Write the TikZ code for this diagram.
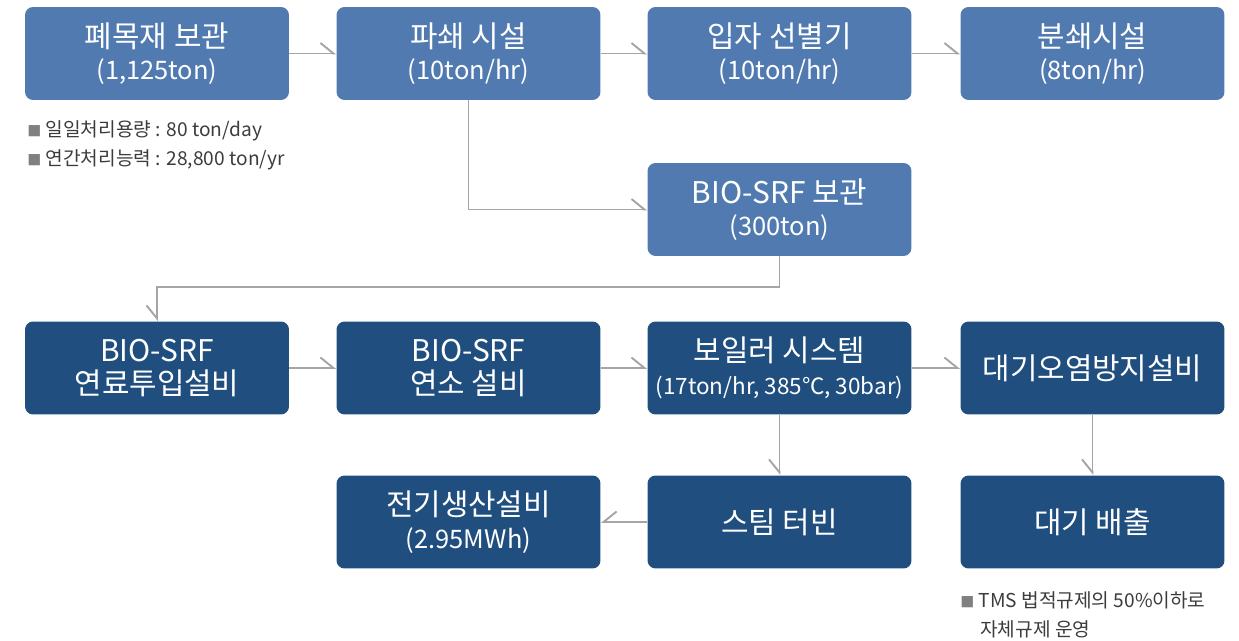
\documentclass[tikz,border=0pt]{standalone}
\usepackage{fontspec}
\setmainfont{Noto Sans CJK KR}
\usetikzlibrary{arrows.meta}
\definecolor{lightblue}{RGB}{80,122,176}
\definecolor{darkblue}{RGB}{31,78,127}
\definecolor{linegray}{RGB}{165,165,165}
\definecolor{notegray}{RGB}{60,60,60}
\newcommand{\subline}[1]{{\fontsize{14.5}{16}\selectfont #1}}
\newcommand{\bul}{{\fontsize{8}{8}\selectfont\textcolor{gray}{■}}}
\tikzset{
  box/.style={rounded corners=0.16cm, minimum width=5.28cm, minimum height=1.86cm,
    align=center, text=white, inner sep=0pt, font=\fontsize{17}{18.5}\selectfont},
  lightbox/.style={box, fill=lightblue},
  darkbox/.style={box, fill=darkblue},
  flow/.style={draw=linegray, line width=1.1pt},
  barbl/.style={-{Straight Barb[left, length=0.26cm, width=0.42cm]}},
  barbr/.style={-{Straight Barb[right, length=0.26cm, width=0.42cm]}},
  note/.style={anchor=west, inner sep=0pt, text=notegray, font=\fontsize{10.9}{12}\selectfont}
}
\begin{document}
\begin{tikzpicture}[x=0.02cm, y=-0.02cm]
\useasboundingbox (0,0) rectangle (1239,641);

% first row
\node[lightbox] (store) at (157,53.5) {폐목재 보관\\\subline{(1,125ton)}};
\node[lightbox] (crush) at (468.5,53.5) {파쇄 시설\\\subline{(10ton/hr)}};
\node[lightbox] (sort) at (779.5,53.5) {입자 선별기\\\subline{(10ton/hr)}};
\node[lightbox] (grind) at (1092.5,53.5) {분쇄시설\\\subline{(8ton/hr)}};

% storage
\node[lightbox] (srf) at (779.5,209.5) {BIO-SRF 보관\\\subline{(300ton)}};

% third row
\node[darkbox] (feed) at (157,368) {BIO-SRF\\연료투입설비};
\node[darkbox] (burn) at (468.5,368) {BIO-SRF\\연소 설비};
\node[darkbox] (boiler) at (779.5,368) {보일러 시스템\\{\fontsize{12.8}{16}\selectfont(17ton/hr, 385℃, 30bar)}};
\node[darkbox] (apc) at (1092.5,368) {대기오염방지설비};

% last row
\node[darkbox] (power) at (468.5,522) {전기생산설비\\\subline{(2.95MWh)}};
\node[darkbox] (turbine) at (779.5,522) {스팀 터빈};
\node[darkbox] (stack) at (1092.5,522) {대기 배출};

% notes
\node[note] (n1) at (27,131) {\bul\ 일일처리용량 : 80 ton/day};
\node[note] (n2) at (27,160) {\bul\ 연간처리능력 : 28,800 ton/yr};
\node[note] (n3) at (960,600) {\bul\ TMS 법적규제의 50\%이하로};
\node[note] (n4) at (980,629) {자체규제 운영};

% connectors
\draw[flow, barbl] (store) -- (crush);
\draw[flow, barbl] (crush) -- (sort);
\draw[flow, barbl] (sort) -- (grind);
\draw[flow, barbl] (crush.south) |- (srf.west);
\draw[flow, barbr] (srf.south) -- ++(0,31) -| (feed.north);
\draw[flow, barbl] (feed) -- (burn);
\draw[flow, barbl] (burn) -- (boiler);
\draw[flow, barbl] (boiler) -- (apc);
\draw[flow, barbr] (boiler) -- (turbine);
\draw[flow, barbr] (apc) -- (stack);
\draw[flow, barbr] (turbine) -- (power);

\end{tikzpicture}
\end{document}
